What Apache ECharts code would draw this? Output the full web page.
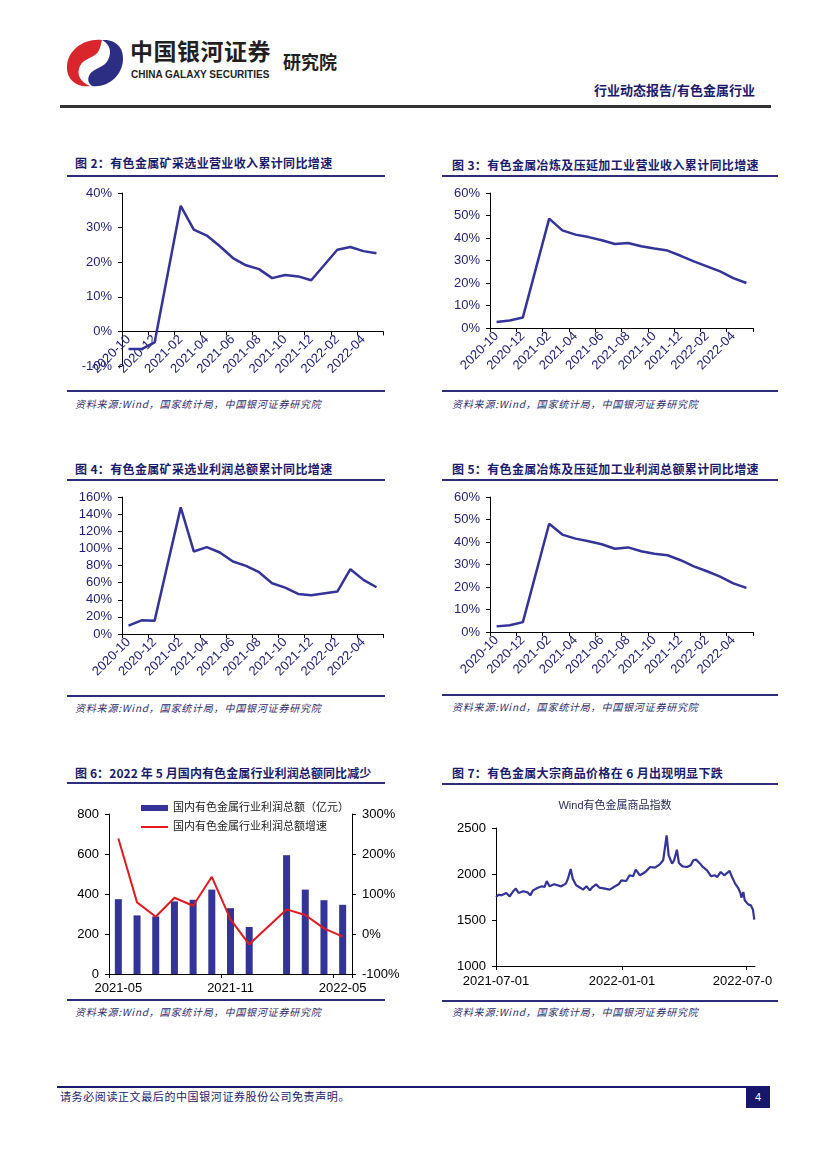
<!DOCTYPE html>
<html><head><meta charset="utf-8">
<script src="https://cdn.jsdelivr.net/npm/echarts@6/dist/echarts.min.js"></script>
<style>
body{margin:0;width:827px;height:1169px;background:#fff;position:relative;overflow:hidden;font-family:"Noto Sans CJK SC","Noto Sans",sans-serif;}
.abs{position:absolute;white-space:nowrap;}
.title{position:absolute;font-size:12px;line-height:14px;font-weight:bold;color:#1b1b6e;letter-spacing:0.35px;white-space:nowrap;}
.rule{position:absolute;height:2px;background:#2d2d7c;}
.src{position:absolute;font-size:10px;line-height:14px;font-style:italic;color:#2d2d6e;letter-spacing:0.8px;white-space:nowrap;}
.chart{position:absolute;}
</style></head><body>

<svg class="abs" style="left:64px;top:36px" width="62" height="54" viewBox="0 0 62 54">
  <path d="M38,4 C20,2 4,14 3,30 C2,44 14,52 26,50 C16,46 12,38 16,30 C20,22 30,22 34,16 C37,11 37,7 38,4Z" fill="#d9262c"/>
  <path d="M28,50 C44,52 58,40 59,24 C60,10 50,3 38,4 C46,8 48,16 44,24 C40,32 30,32 26,38 C23,43 24,47 28,50Z" fill="#2b2e83"/>
</svg>
<div class="abs" style="left:130px;top:36px;font-size:23px;line-height:28px;font-weight:bold;color:#231f20;letter-spacing:0.5px;">中国银河证券</div>
<div class="abs" style="left:131px;top:69px;font-size:10px;line-height:12px;font-weight:bold;color:#231f20;font-family:'Liberation Sans',sans-serif;">CHINA GALAXY SECURITIES</div>
<div class="abs" style="left:283px;top:50px;font-size:18px;line-height:22px;font-weight:bold;color:#231f20;">研究院</div>
<div class="abs" style="left:594px;top:82px;font-size:13px;line-height:16px;font-weight:bold;color:#1b1b6e;">行业动态报告/有色金属行业</div>
<div class="abs" style="left:60px;top:105px;width:711px;height:2.5px;background:#333;"></div>

<div class="title" style="left:75px;top:156px;">图 2：有色金属矿采选业营业收入累计同比增速</div>
<div class="rule" style="left:67px;top:175px;width:318px;"></div>
<div id="c2" class="chart" style="left:60px;top:180px;width:335px;height:208px;"></div>
<div class="rule" style="left:67px;top:390px;width:318px;"></div>
<div class="src" style="left:75px;top:397px;">资料来源:Wind，国家统计局，中国银河证券研究院</div>

<div class="title" style="left:452px;top:158px;">图 3：有色金属冶炼及压延加工业营业收入累计同比增速</div>
<div class="rule" style="left:442px;top:175px;width:336px;"></div>
<div id="c3" class="chart" style="left:440px;top:180px;width:340px;height:208px;"></div>
<div class="rule" style="left:442px;top:390px;width:336px;"></div>
<div class="src" style="left:452px;top:397px;">资料来源:Wind，国家统计局，中国银河证券研究院</div>

<div class="title" style="left:75px;top:462px;">图 4：有色金属矿采选业利润总额累计同比增速</div>
<div class="rule" style="left:67px;top:479px;width:318px;"></div>
<div id="c4" class="chart" style="left:60px;top:485px;width:335px;height:208px;"></div>
<div class="rule" style="left:67px;top:695px;width:318px;"></div>
<div class="src" style="left:75px;top:701px;">资料来源:Wind，国家统计局，中国银河证券研究院</div>

<div class="title" style="left:452px;top:462px;">图 5：有色金属冶炼及压延加工业利润总额累计同比增速</div>
<div class="rule" style="left:442px;top:479px;width:336px;"></div>
<div id="c5" class="chart" style="left:440px;top:485px;width:340px;height:208px;"></div>
<div class="rule" style="left:442px;top:694px;width:336px;"></div>
<div class="src" style="left:452px;top:700px;">资料来源:Wind，国家统计局，中国银河证券研究院</div>

<div class="title" style="left:75px;top:766px;letter-spacing:0.1px;">图 6：2022 年 5 月国内有色金属行业利润总额同比减少</div>
<div class="rule" style="left:67px;top:782px;width:318px;"></div>
<div id="c6" class="chart" style="left:60px;top:785px;width:345px;height:213px;"></div>
<div class="rule" style="left:67px;top:999px;width:318px;"></div>
<div class="src" style="left:75px;top:1005px;">资料来源:Wind，国家统计局，中国银河证券研究院</div>

<div class="title" style="left:452px;top:766px;">图 7：有色金属大宗商品价格在 6 月出现明显下跌</div>
<div class="rule" style="left:442px;top:783px;width:336px;"></div>
<div id="c7" class="chart" style="left:440px;top:785px;width:332px;height:213px;"></div>
<div class="rule" style="left:442px;top:1000px;width:336px;"></div>
<div class="src" style="left:452px;top:1005px;">资料来源:Wind，国家统计局，中国银河证券研究院</div>

<div class="abs" style="left:57px;top:1086px;width:713px;height:2px;background:#1b1b6e;"></div>
<div class="abs" style="left:60px;top:1089px;font-size:11px;line-height:14px;color:#1b1b6e;letter-spacing:0.6px;">请务必阅读正文最后的中国银河证券股份公司免责声明。</div>
<div class="abs" style="left:746px;top:1087px;width:24px;height:21px;background:#16166a;color:#fff;font-size:11px;line-height:21px;text-align:center;font-family:'Liberation Sans',sans-serif;">4</div>

<script>
// ---------- data ----------
const months = ['2020-10','2020-11','2020-12','2021-01','2021-02','2021-03','2021-04','2021-05','2021-06','2021-07','2021-08','2021-09','2021-10','2021-11','2021-12','2022-01','2022-02','2022-03','2022-04','2022-05'];
const miningRevenue = [-5.1,-5.1,-3.2,null,36.3,29.4,27.7,24.6,21.2,19.1,18.0,15.4,16.3,15.9,14.8,null,23.6,24.4,23.2,22.6];
const smeltRevenue = [2.7,3.3,4.7,null,48.6,43.4,41.5,40.4,39.0,37.3,37.8,36.3,35.3,34.4,32.1,29.6,27.4,25.2,22.2,20.0];
const miningProfit = [9.8,16.0,15.6,null,147.9,96.4,101.5,95.2,84.7,79.6,72.2,59.3,54.2,46.8,45.3,null,49.6,75.7,63.2,54.6];
const smeltProfit = [2.5,3.0,4.4,null,48.1,43.3,41.5,40.3,39.0,37.0,37.6,35.9,34.8,34.1,31.9,29.2,27.0,24.6,21.6,19.6];

const months6 = ['2021-05','2021-06','2021-07','2021-08','2021-09','2021-10','2021-11','2021-12','2022-01','2022-02','2022-03','2022-04','2022-05'];
const profitTotal = [374,293,288,363,371,422,329,235,null,594,422,369,346];
const profitGrowth = [238.7,79.0,43.2,90.6,70.7,143.0,36.6,-25.8,null,61.5,47.4,14.1,-6.7];
const legend6 = ['国内有色金属行业利润总额（亿元）','国内有色金属行业利润总额增速'];

const dates7 = ['2021-07-01','2021-07-05','2021-07-09','2021-07-16','2021-07-21','2021-07-26','2021-07-30','2021-08-03','2021-08-10','2021-08-16','2021-08-20','2021-08-24','2021-08-31','2021-09-06','2021-09-10','2021-09-13','2021-09-17','2021-09-24','2021-10-04','2021-10-11','2021-10-14','2021-10-18','2021-10-21','2021-10-26','2021-11-01','2021-11-05','2021-11-10','2021-11-15','2021-11-18','2021-11-24','2021-11-29','2021-12-07','2021-12-14','2021-12-20','2021-12-27','2021-12-31','2022-01-07','2022-01-12','2022-01-17','2022-01-21','2022-01-27','2022-02-04','2022-02-11','2022-02-18','2022-02-25','2022-03-02','2022-03-07','2022-03-10','2022-03-15','2022-03-18','2022-03-22','2022-03-25','2022-03-30','2022-04-06','2022-04-11','2022-04-15','2022-04-19','2022-04-25','2022-04-28','2022-05-05','2022-05-11','2022-05-16','2022-05-20','2022-05-25','2022-05-30','2022-06-07','2022-06-10','2022-06-15','2022-06-20','2022-06-23','2022-06-24','2022-06-27','2022-06-29','2022-07-04','2022-07-08','2022-07-11','2022-07-13'];
const values7 = [1750,1775,1768,1793,1757,1812,1841,1793,1812,1801,1768,1822,1851,1866,1859,1924,1866,1888,1866,1895,1949,2054,1949,1877,1851,1830,1866,1822,1851,1888,1851,1841,1830,1859,1888,1931,1924,1986,1975,2047,1986,2022,2076,2069,2105,2149,2420,2203,2112,2149,2264,2120,2083,2076,2094,2149,2156,2112,2083,2040,1975,1986,1968,2022,1986,2033,1975,1895,1841,1786,1743,1804,1714,1670,1659,1612,1504];
const ticks7 = ['2021-07-01','2022-01-01','2022-07-01'];
const title7 = 'Wind有色金属商品指数';

// ---------- styles ----------
const FONT = '"Liberation Sans","Noto Sans CJK SC",sans-serif';
const NAVY = '#1e1e78';
const LINE = '#33339a';

function mkLine(id, vals, ymin, ymax, step, grid) {
  const c = echarts.init(document.getElementById(id));
  // when the value range goes below zero, lift the category axis up to the zero line
  const zeroOffset = ymin < 0 ? -grid.height * (-ymin) / (ymax - ymin) : 0;
  c.setOption({
    animation: false,
    grid: Object.assign({containLabel: false, outerBoundsMode: 'none'}, grid),
    xAxis: {type: 'category', data: months, boundaryGap: true, position: 'bottom', offset: zeroOffset,
      axisLine: {onZero: false, lineStyle: {color: '#000', width: 1}},
      axisTick: {show: true, interval: 1, length: 4, lineStyle: {color: '#000'}},
      axisLabel: {interval: 1, rotate: 45, fontSize: 13, color: NAVY, fontFamily: FONT, margin: 6},
      splitLine: {show: false}},
    yAxis: {type: 'value', min: ymin, max: ymax, interval: step,
      axisLine: {show: true, lineStyle: {color: '#000'}},
      axisTick: {show: true, length: 4, lineStyle: {color: '#000'}},
      axisLabel: {formatter: '{value}%', fontSize: 13, color: NAVY, fontFamily: FONT, margin: 10},
      splitLine: {show: false}},
    series: [{type: 'line', data: vals, symbol: 'none', connectNulls: true,
      lineStyle: {color: LINE, width: 2.5}, itemStyle: {color: LINE}}]
  });
}

mkLine('c2', miningRevenue, -10, 40, 10, {left: 62, top: 13, width: 261, height: 173});
mkLine('c3', smeltRevenue, 0, 60, 10, {left: 50, top: 13, width: 263, height: 135});
mkLine('c4', miningProfit, 0, 160, 20, {left: 62, top: 12, width: 261, height: 137});
mkLine('c5', smeltProfit, 0, 60, 10, {left: 50, top: 12, width: 263, height: 135});

// chart 6
(function(){
  const c = echarts.init(document.getElementById('c6'));
  const legText = {fontSize: 11, color: '#222', lineHeight: 14, fontFamily: FONT};
  c.setOption({
    animation: false,
    grid: {left: 49, top: 29, width: 243, height: 160, containLabel: false, outerBoundsMode: 'none'},
    legend: [
      {left: 76, top: 11, itemWidth: 27, itemHeight: 6, icon: 'rect', textStyle: legText, data: [legend6[0]]},
      {left: 76, top: 30, itemWidth: 27, itemHeight: 2, icon: 'rect', textStyle: legText, data: [legend6[1]]}
    ],
    xAxis: {type: 'category', data: months6, boundaryGap: true,
      axisLine: {lineStyle: {color: '#000'}},
      axisTick: {show: true, interval: 5, length: 4, lineStyle: {color: '#000'}},
      axisLabel: {interval: 5, fontSize: 13, color: '#000', fontFamily: FONT, margin: 8},
      splitLine: {show: false}},
    yAxis: [
      {type: 'value', min: 0, max: 800, interval: 200,
        axisLine: {show: true, lineStyle: {color: '#000'}},
        axisTick: {show: true, length: 4, lineStyle: {color: '#000'}},
        axisLabel: {fontSize: 13, color: '#000', fontFamily: FONT, margin: 10},
        splitLine: {show: false}},
      {type: 'value', min: -100, max: 300, interval: 100, position: 'right',
        axisLine: {show: true, lineStyle: {color: '#000'}},
        axisTick: {show: true, length: 4, lineStyle: {color: '#000'}},
        axisLabel: {formatter: '{value}%', fontSize: 13, color: '#000', fontFamily: FONT, margin: 10},
        splitLine: {show: false}}
    ],
    series: [
      {name: legend6[0], type: 'bar', yAxisIndex: 0, data: profitTotal, barWidth: 7, itemStyle: {color: '#333399'}},
      {name: legend6[1], type: 'line', yAxisIndex: 1, data: profitGrowth, symbol: 'none', connectNulls: true,
        lineStyle: {color: '#e3191e', width: 2}, itemStyle: {color: '#e3191e'}}
    ]
  });
})();

// chart 7
(function(){
  const c = echarts.init(document.getElementById('c7'));
  const tv = ticks7.map(d => echarts.number.parseDate(d).getTime());
  c.setOption({
    animation: false,
    title: {text: title7, left: 170, top: 10, textAlign: 'center',
      textStyle: {fontSize: 11, fontWeight: 'normal', color: '#2a2a5a', fontFamily: FONT}},
    grid: {left: 56, top: 43, width: 259, height: 138, containLabel: false, outerBoundsMode: 'none'},
    xAxis: {type: 'time', min: '2021-07-01', max: '2022-07-14',
      axisLine: {lineStyle: {color: '#000'}},
      axisTick: {show: true, length: 4, customValues: tv, lineStyle: {color: '#000'}},
      axisLabel: {customValues: tv, formatter: '{yyyy}-{MM}-{dd}', fontSize: 13, color: '#000', fontFamily: FONT, margin: 9, hideOverlap: false, showMinLabel: true, showMaxLabel: true},
      splitLine: {show: false}},
    yAxis: {type: 'value', min: 1000, max: 2500, interval: 500,
      axisLine: {show: true, lineStyle: {color: '#000'}},
      axisTick: {show: true, length: 4, lineStyle: {color: '#000'}},
      axisLabel: {formatter: v => String(v), fontSize: 13, color: '#000', fontFamily: FONT, margin: 10},
      splitLine: {show: false}},
    series: [{type: 'line', data: dates7.map((d, i) => [d, values7[i]]), symbol: 'none',
      lineStyle: {color: LINE, width: 2.2}, itemStyle: {color: LINE}}]
  });
})();
</script>
</body></html>
